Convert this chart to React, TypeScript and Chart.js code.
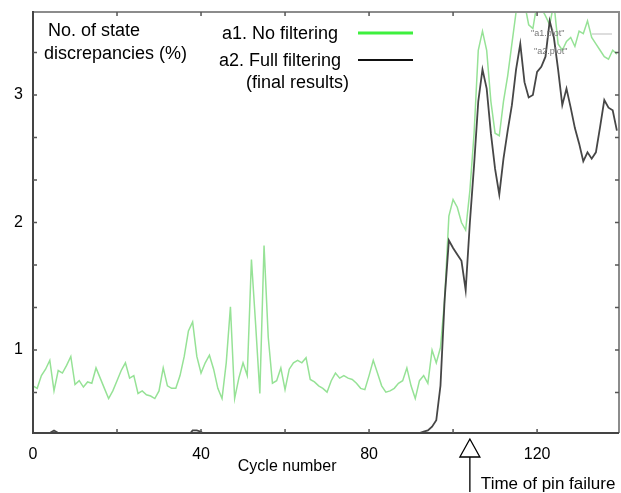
import { useEffect, useRef } from "react";
import { Chart, registerables } from "chart.js";

Chart.register(...registerables);

// Series values, one per cycle (cycle 0 .. 139)
const noFiltering = [
  0.72, 0.70, 0.80, 0.85, 0.92, 0.68, 0.84, 0.82, 0.88, 0.95,
  0.73, 0.76, 0.71, 0.75, 0.74, 0.86, 0.78, 0.70, 0.62, 0.68,
  0.76, 0.84, 0.90, 0.78, 0.80, 0.66, 0.68, 0.65, 0.64, 0.62,
  0.68, 0.86, 0.72, 0.70, 0.70, 0.80, 0.95, 1.15, 1.22, 0.95,
  0.82, 0.90, 0.96, 0.85, 0.70, 0.62, 0.90, 1.34, 0.62, 0.78,
  0.90, 0.80, 1.71, 1.20, 0.66, 1.82, 1.10, 0.74, 0.76, 0.86,
  0.69, 0.85, 0.90, 0.92, 0.90, 0.94, 0.77, 0.75, 0.72, 0.70,
  0.67, 0.76, 0.82, 0.78, 0.80, 0.78, 0.77, 0.74, 0.70, 0.69,
  0.80, 0.92, 0.82, 0.72, 0.67, 0.68, 0.70, 0.74, 0.76, 0.86,
  0.72, 0.62, 0.76, 0.80, 0.74, 1.00, 0.90, 1.02, 1.40, 2.05,
  2.18, 2.12, 2.00, 1.94, 2.25, 2.70, 3.35, 3.50, 3.35, 2.95,
  2.70, 2.68, 2.95, 3.15, 3.40, 3.65, 3.80, 3.72, 3.55, 3.52,
  3.72, 3.68, 3.62, 3.55, 3.72, 3.40, 3.35, 3.42, 3.45, 3.38,
  3.50, 3.48, 3.58, 3.45, 3.40, 3.35, 3.30, 3.28, 3.35, 3.32,
];

const fullFiltering = [
  0.30, 0.30, 0.30, 0.32, 0.35, 0.37, 0.35, 0.32, 0.30, 0.30,
  0.30, 0.30, 0.30, 0.30, 0.30, 0.30, 0.30, 0.30, 0.30, 0.30,
  0.30, 0.30, 0.30, 0.30, 0.30, 0.30, 0.30, 0.30, 0.30, 0.30,
  0.30, 0.30, 0.30, 0.30, 0.30, 0.30, 0.30, 0.33, 0.37, 0.37,
  0.36, 0.33, 0.30, 0.30, 0.30, 0.30, 0.30, 0.30, 0.30, 0.30,
  0.30, 0.30, 0.30, 0.30, 0.30, 0.30, 0.30, 0.30, 0.30, 0.30,
  0.30, 0.30, 0.30, 0.30, 0.30, 0.30, 0.30, 0.30, 0.30, 0.30,
  0.30, 0.30, 0.30, 0.30, 0.30, 0.30, 0.30, 0.30, 0.30, 0.30,
  0.30, 0.30, 0.30, 0.30, 0.30, 0.30, 0.30, 0.30, 0.30, 0.30,
  0.31, 0.33, 0.35, 0.36, 0.37, 0.40, 0.45, 0.72, 1.40, 1.86,
  1.80, 1.75, 1.70, 1.47, 2.00, 2.45, 2.95, 3.20, 3.05, 2.70,
  2.42, 2.22, 2.50, 2.72, 2.92, 3.20, 3.40, 3.10, 2.98, 3.00,
  3.18, 3.22, 3.30, 3.58, 3.45, 3.20, 2.92, 3.05, 2.90, 2.74,
  2.62, 2.48, 2.55, 2.50, 2.55, 2.75, 2.96, 2.90, 2.88, 2.72,
];

const xTickLabels = [0, 40, 80, 120];
const yTickLabels = [1, 2, 3];
const xMinorTicks = [20, 40, 60, 80, 100, 120];
const yMinorTicks = [0.667, 1, 1.333, 1.667, 2, 2.333, 2.667, 3, 3.333];
const pinFailureCycle = 104;
const xTitleCycle = 60.5;

const FONT = "'Liberation Sans', Arial, sans-serif";

const decorPlugin = {
  id: "decor",
  afterDraw(chart: any) {
    const { ctx, chartArea: a, scales } = chart;
    const xs = scales.x;
    const ys = scales.y;
    ctx.save();

    // frame
    ctx.lineCap = "butt";
    ctx.strokeStyle = "#8c8c8c";
    ctx.lineWidth = 2;
    ctx.beginPath();
    ctx.moveTo(a.left, a.top);
    ctx.lineTo(a.right, a.top);
    ctx.lineTo(a.right, a.bottom);
    ctx.stroke();
    ctx.strokeStyle = "#444";
    ctx.lineWidth = 2;
    ctx.beginPath();
    ctx.moveTo(a.left, a.top - 1);
    ctx.lineTo(a.left, a.bottom);
    ctx.lineTo(a.right, a.bottom);
    ctx.stroke();

    // inward ticks
    ctx.strokeStyle = "#555";
    ctx.lineWidth = 1.5;
    ctx.beginPath();
    for (const v of yMinorTicks) {
      const y = ys.getPixelForValue(v);
      ctx.moveTo(a.left, y);
      ctx.lineTo(a.left + 4, y);
      ctx.moveTo(a.right, y);
      ctx.lineTo(a.right - 4, y);
    }
    for (const v of xMinorTicks) {
      const x = xs.getPixelForValue(v);
      ctx.moveTo(x, a.bottom);
      ctx.lineTo(x, a.bottom - 4);
      ctx.moveTo(x, a.top);
      ctx.lineTo(x, a.top + 4);
    }
    ctx.stroke();

    // y tick labels
    ctx.fillStyle = "#000";
    ctx.textBaseline = "middle";
    ctx.textAlign = "right";
    ctx.font = `16px ${FONT}`;
    for (const v of yTickLabels) {
      ctx.fillText(String(v), a.left - 10, ys.getPixelForValue(v));
    }

    // axis title texts
    ctx.textAlign = "left";
    ctx.font = `18px ${FONT}`;
    ctx.fillText("No. of state", 48, 31);
    ctx.fillText("discrepancies (%)", 44, 54);

    // legend
    ctx.fillText("a1. No filtering", 222, 34);
    ctx.fillText("a2. Full filtering", 219, 61);
    ctx.fillText("(final results)", 246, 83);
    ctx.strokeStyle = "#3ef03e";
    ctx.lineWidth = 3;
    ctx.beginPath();
    ctx.moveTo(358, 33);
    ctx.lineTo(413, 33);
    ctx.stroke();
    ctx.strokeStyle = "#111";
    ctx.lineWidth = 2;
    ctx.beginPath();
    ctx.moveTo(358, 60);
    ctx.lineTo(413, 60);
    ctx.stroke();

    // faint gnuplot key remnants
    ctx.font = `9px ${FONT}`;
    ctx.fillStyle = "#7a7a7a";
    ctx.fillText('"a1.plot"', 531, 34);
    ctx.fillText('"a2.plot"', 534, 52);
    ctx.strokeStyle = "#bbbbbb";
    ctx.lineWidth = 1;
    ctx.beginPath();
    ctx.moveTo(592, 34);
    ctx.lineTo(612, 34);
    ctx.stroke();

    // x axis title
    ctx.fillStyle = "#000";
    ctx.font = `16px ${FONT}`;
    ctx.textAlign = "center";
    ctx.fillText("Cycle number", xs.getPixelForValue(xTitleCycle), 467);

    // pin failure arrow
    const px = xs.getPixelForValue(pinFailureCycle);
    ctx.strokeStyle = "#000";
    ctx.lineWidth = 1.3;
    ctx.beginPath();
    ctx.moveTo(px, a.bottom + 6);
    ctx.lineTo(px + 10, a.bottom + 24);
    ctx.lineTo(px - 10, a.bottom + 24);
    ctx.closePath();
    ctx.moveTo(px, a.bottom + 24);
    ctx.lineTo(px, a.bottom + 59);
    ctx.stroke();
    ctx.textAlign = "left";
    ctx.font = `17px ${FONT}`;
    ctx.fillText("Time of pin failure", px + 11, 484);

    ctx.restore();
  },
};

export default function App() {
  const ref = useRef<HTMLCanvasElement | null>(null);

  useEffect(() => {
    if (!ref.current) return;
    const chart = new Chart(ref.current, {
      type: "line",
      data: {
        datasets: [
          {
            label: "a2. Full filtering (final results)",
            data: fullFiltering.map((v, i) => ({ x: i, y: v })),
            borderColor: "rgba(60,60,60,0.95)",
            borderWidth: 1.8,
            pointRadius: 0,
            tension: 0,
            order: 0,
          },
          {
            label: "a1. No filtering",
            data: noFiltering.map((v, i) => ({ x: i, y: v })),
            borderColor: "rgb(150,226,150)",
            borderWidth: 1.5,
            pointRadius: 0,
            tension: 0,
            order: 1,
          },
        ],
      },
      options: {
        responsive: false,
        animation: false,
        events: [],
        layout: { padding: { top: 12, right: 2, left: 0, bottom: 0 } },
        plugins: {
          legend: { display: false },
          tooltip: { enabled: false },
          title: { display: false },
        },
        scales: {
          x: {
            type: "linear",
            min: 0,
            max: 139.5,
            grid: { display: false, drawTicks: false },
            border: { display: false },
            afterBuildTicks: (s: any) => {
              s.ticks = xTickLabels.map((v) => ({ value: v }));
            },
            afterFit: (s: any) => {
              s.height = 60;
            },
            ticks: {
              autoSkip: false,
              maxRotation: 0,
              padding: 12,
              color: "#000",
              font: { family: FONT, size: 16 },
              callback: (v: any) => String(v),
            },
          },
          y: {
            type: "linear",
            min: 0.35,
            max: 3.65,
            grid: { display: false, drawTicks: false },
            border: { display: false },
            ticks: { display: false },
            afterFit: (s: any) => {
              s.width = 33;
            },
          },
        },
      },
      plugins: [decorPlugin],
    });
    return () => chart.destroy();
  }, []);

  return (
    <div style={{ position: "fixed", left: 0, top: 0, width: 621, height: 493, background: "#fff" }}>
      <canvas ref={ref} width={621} height={493} style={{ display: "block" }} />
    </div>
  );
}
